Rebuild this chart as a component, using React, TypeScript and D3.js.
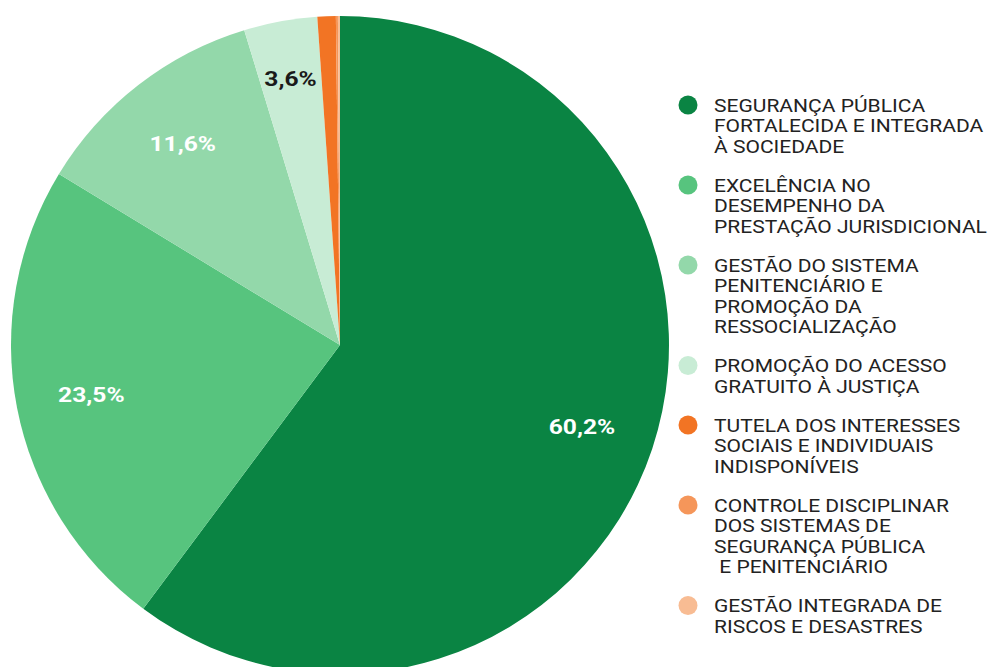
import React from "react";
import * as d3 from "d3";

const categories: string[][] = [
  ["SEGURANÇA PÚBLICA", "FORTALECIDA E INTEGRADA", "À SOCIEDADE"],
  ["EXCELÊNCIA NO", "DESEMPENHO DA", "PRESTAÇÃO JURISDICIONAL"],
  ["GESTÃO DO SISTEMA", "PENITENCIÁRIO E", "PROMOÇÃO DA", "RESSOCIALIZAÇÃO"],
  ["PROMOÇÃO DO ACESSO", "GRATUITO À JUSTIÇA"],
  ["TUTELA DOS INTERESSES", "SOCIAIS E INDIVIDUAIS", "INDISPONÍVEIS"],
  ["CONTROLE DISCIPLINAR", "DOS SISTEMAS DE", "SEGURANÇA PÚBLICA", " E PENITENCIÁRIO"],
  ["GESTÃO INTEGRADA DE", "RISCOS E DESASTRES"],
];
const values: number[] = [60.2, 23.5, 11.6, 3.6, 0.9, 0.1, 0.1];
const labels: string[] = ["60,2%", "23,5%", "11,6%", "3,6%", "", "", ""];
const colors: string[] = ["#0a8443", "#57c47e", "#93d8aa", "#c8ecd5", "#f27424", "#f5965a", "#f8bc93"];
const labelColors: string[] = ["#ffffff", "#ffffff", "#ffffff", "#1a1a1a", "", "", ""];

export default function App() {
  const W = 989, H = 667;
  const cx = 340, cy = 345, R = 329;
  const pie = d3.pie<number>().sort(null).value((d) => d).startAngle(0).endAngle(2 * Math.PI);
  const arcs = pie(values);
  const arcGen = d3.arc<d3.PieArcDatum<number>>().innerRadius(0).outerRadius(R);
  const labelRadii = [0.775, 0.77, 0.78, 0.83, 0.8, 0.8, 0.8];

  const lineH = 20.5;
  const legendX = 688;
  const textX = 714;
  const sx = 1.125;
  let y = 105;
  const legendItems = categories.map((lines, i) => {
    const top = y;
    y += lines.length * lineH + 18.5;
    return { lines, top, i };
  });

  return (
    <svg width={W} height={H} style={{ position: "absolute", left: 0, top: 0, background: "#fff" }}>
      <g transform={`translate(${cx},${cy})`}>
        {arcs.map((a, i) => (
          <path key={i} d={arcGen(a) || ""} fill={colors[i]} />
        ))}
        {arcs.map((a, i) => {
          if (!labels[i]) return null;
          const mid = (a.startAngle + a.endAngle) / 2;
          const r = R * labelRadii[i];
          const x = Math.sin(mid) * r;
          const yy = -Math.cos(mid) * r;
          return (
            <text key={i} transform={`translate(${x},${yy + 2}) scale(1.2,1)`} dy="0.35em" textAnchor="middle" fill={labelColors[i]}
              fontFamily="Roboto, sans-serif" fontWeight="bold" fontSize={20.5}>
              {labels[i]}
            </text>
          );
        })}
      </g>
      <g fontFamily="Roboto, sans-serif" fontSize={18.7} fill="#222">
        {legendItems.map(({ lines, top, i }) => (
          <g key={i}>
            <circle cx={legendX} cy={top} r={9.5} fill={colors[i]} />
            {lines.map((ln, j) => (
              <text key={j} transform={`translate(${textX},${top + j * lineH + 6.7}) scale(${sx},1)`} style={{ whiteSpace: "pre" }}>
                {ln}
              </text>
            ))}
          </g>
        ))}
      </g>
    </svg>
  );
}
